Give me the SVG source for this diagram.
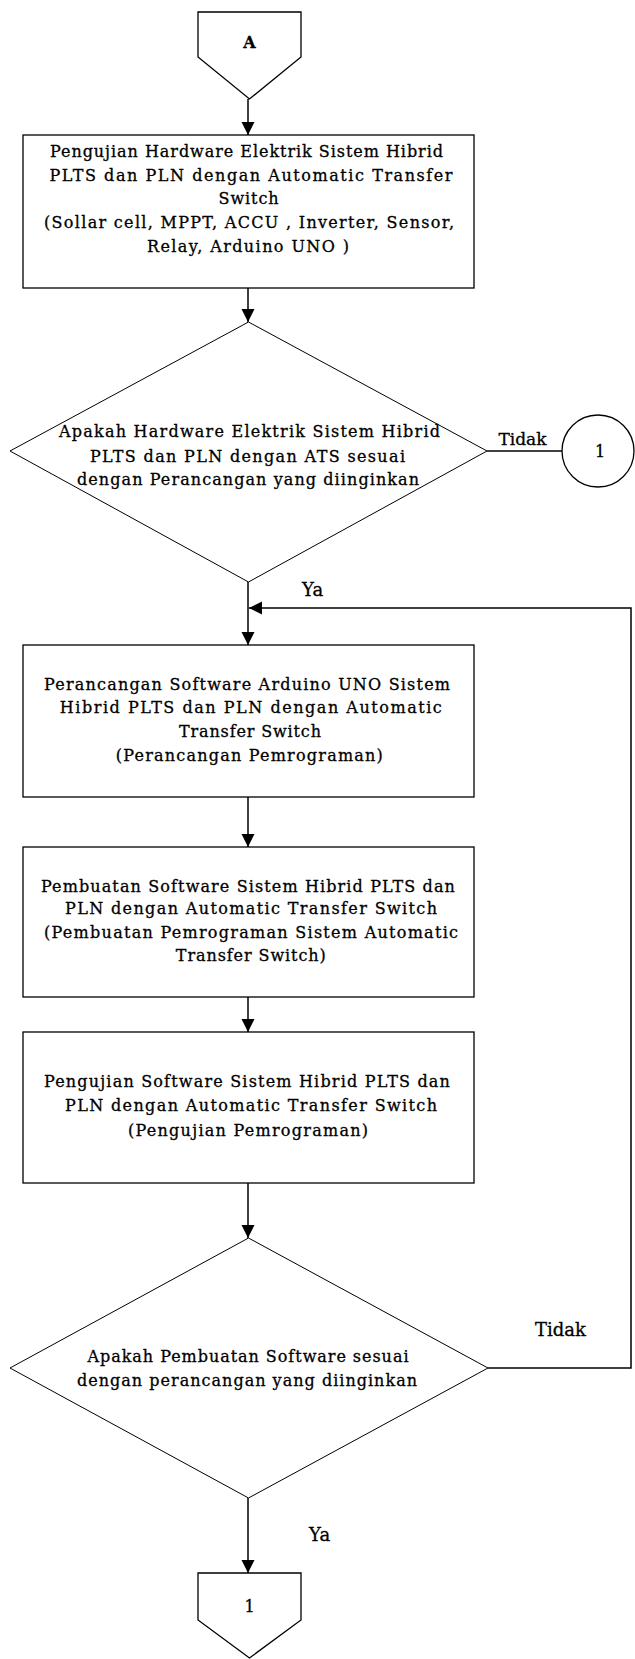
<svg xmlns="http://www.w3.org/2000/svg" width="635" height="1659" viewBox="0 0 635 1659">
<defs>
<style>
.shape{fill:#fff;stroke:#000;stroke-width:1.3}
.dia{fill:#fff;stroke:#000;stroke-width:1}
.con{fill:none;stroke:#000;stroke-width:1.5}
.t{font-family:"DejaVu Serif","Liberation Serif",serif;font-size:16px;fill:#000;stroke:#000;stroke-width:0.3;text-anchor:middle}
.lbl{font-size:18px}
.b{font-weight:bold}
</style>
<marker id="arr" viewBox="0 0 14 14" refX="13" refY="7" markerWidth="14" markerHeight="14" markerUnits="userSpaceOnUse" orient="auto">
<path d="M0,0.5 L13,7 L0,13.5 z" fill="#000"/>
</marker>
</defs>
<rect width="635" height="1659" fill="#fff"/>
<g id="connectors">
<line class="con" x1="248" y1="99" x2="248" y2="135" marker-end="url(#arr)"/>
<line class="con" x1="248" y1="288" x2="248" y2="322" marker-end="url(#arr)"/>
<line class="con" x1="487" y1="451" x2="562" y2="451"/>
<line class="con" x1="248" y1="582" x2="248" y2="645" marker-end="url(#arr)"/>
<line class="con" x1="248" y1="797" x2="248" y2="847" marker-end="url(#arr)"/>
<line class="con" x1="248" y1="997" x2="248" y2="1032" marker-end="url(#arr)"/>
<line class="con" x1="248" y1="1183" x2="248" y2="1238" marker-end="url(#arr)"/>
<polyline class="con" points="488,1368 631,1368 631,608 249,608" marker-end="url(#arr)"/>
<line class="con" x1="248" y1="1498" x2="248" y2="1573" marker-end="url(#arr)"/>
<text class="t" x="522.5" y="445" style="font-size:17px">Tidak</text>
<text class="t lbl" x="312.5" y="596">Ya</text>
<text class="t lbl" x="560.5" y="1336">Tidak</text>
<text class="t lbl" x="319.5" y="1541">Ya</text>
</g>
<g id="connA">
<polygon class="shape" points="198,12 301,12 301,57 249.5,99 198,57"/>
<text class="t b" x="249.5" y="48">A</text>
</g>
<g id="box1">
<rect class="shape" x="23" y="135" width="451" height="153"/>
<text class="t" x="246.5" y="157" textLength="393" lengthAdjust="spacing">Pengujian Hardware Elektrik Sistem Hibrid</text>
<text class="t" x="251" y="181" textLength="403" lengthAdjust="spacing">PLTS dan PLN dengan Automatic Transfer</text>
<text class="t" x="248.6" y="204" textLength="60" lengthAdjust="spacing">Switch</text>
<text class="t" x="249" y="228" textLength="410" lengthAdjust="spacing">(Sollar cell, MPPT, ACCU , Inverter, Sensor,</text>
<text class="t" x="248" y="252" textLength="202" lengthAdjust="spacing">Relay, Arduino UNO )</text>
</g>
<g id="dec1">
<polygon class="dia" points="248.5,322 487,451 248.5,582 10,451"/>
<text class="t" x="249.5" y="437" textLength="381" lengthAdjust="spacing">Apakah Hardware Elektrik Sistem Hibrid</text>
<text class="t" x="247.5" y="462" textLength="315" lengthAdjust="spacing">PLTS dan PLN dengan ATS sesuai</text>
<text class="t" x="248" y="485" textLength="342" lengthAdjust="spacing">dengan Perancangan yang diinginkan</text>
</g>
<g id="conn1">
<circle class="shape" cx="598" cy="451" r="36"/>
<text class="t" x="600" y="457">1</text>
</g>
<g id="box2">
<rect class="shape" x="23" y="645" width="451" height="152"/>
<text class="t" x="247" y="690" textLength="406" lengthAdjust="spacing">Perancangan Software Arduino UNO Sistem</text>
<text class="t" x="250.8" y="713" textLength="382" lengthAdjust="spacing">Hibrid PLTS dan PLN dengan Automatic</text>
<text class="t" x="250" y="737" textLength="142" lengthAdjust="spacing">Transfer Switch</text>
<text class="t" x="249.3" y="761" textLength="267" lengthAdjust="spacing">(Perancangan Pemrograman)</text>
</g>
<g id="box3">
<rect class="shape" x="23" y="847" width="451" height="150"/>
<text class="t" x="247.9" y="892" textLength="414" lengthAdjust="spacing">Pembuatan Software Sistem Hibrid PLTS dan</text>
<text class="t" x="251" y="914" textLength="372" lengthAdjust="spacing">PLN dengan Automatic Transfer Switch</text>
<text class="t" x="251" y="938" textLength="414" lengthAdjust="spacing">(Pembuatan Pemrograman Sistem Automatic</text>
<text class="t" x="250.8" y="961" textLength="150" lengthAdjust="spacing">Transfer Switch)</text>
</g>
<g id="box4">
<rect class="shape" x="23" y="1032" width="451" height="151"/>
<text class="t" x="246.9" y="1087" textLength="406" lengthAdjust="spacing">Pengujian Software Sistem Hibrid PLTS dan</text>
<text class="t" x="251" y="1111" textLength="372" lengthAdjust="spacing">PLN dengan Automatic Transfer Switch</text>
<text class="t" x="248" y="1136" textLength="240" lengthAdjust="spacing">(Pengujian Pemrograman)</text>
</g>
<g id="dec2">
<polygon class="dia" points="248.5,1238 488,1368 248.5,1498 10,1368"/>
<text class="t" x="248" y="1362" textLength="321" lengthAdjust="spacing">Apakah Pembuatan Software sesuai</text>
<text class="t" x="247" y="1386" textLength="340" lengthAdjust="spacing">dengan perancangan yang diinginkan</text>
</g>
<g id="conn2">
<polygon class="shape" points="198,1573 301,1573 301,1620 249.5,1658 198,1620"/>
<text class="t" x="249.5" y="1612">1</text>
</g>
</svg>
